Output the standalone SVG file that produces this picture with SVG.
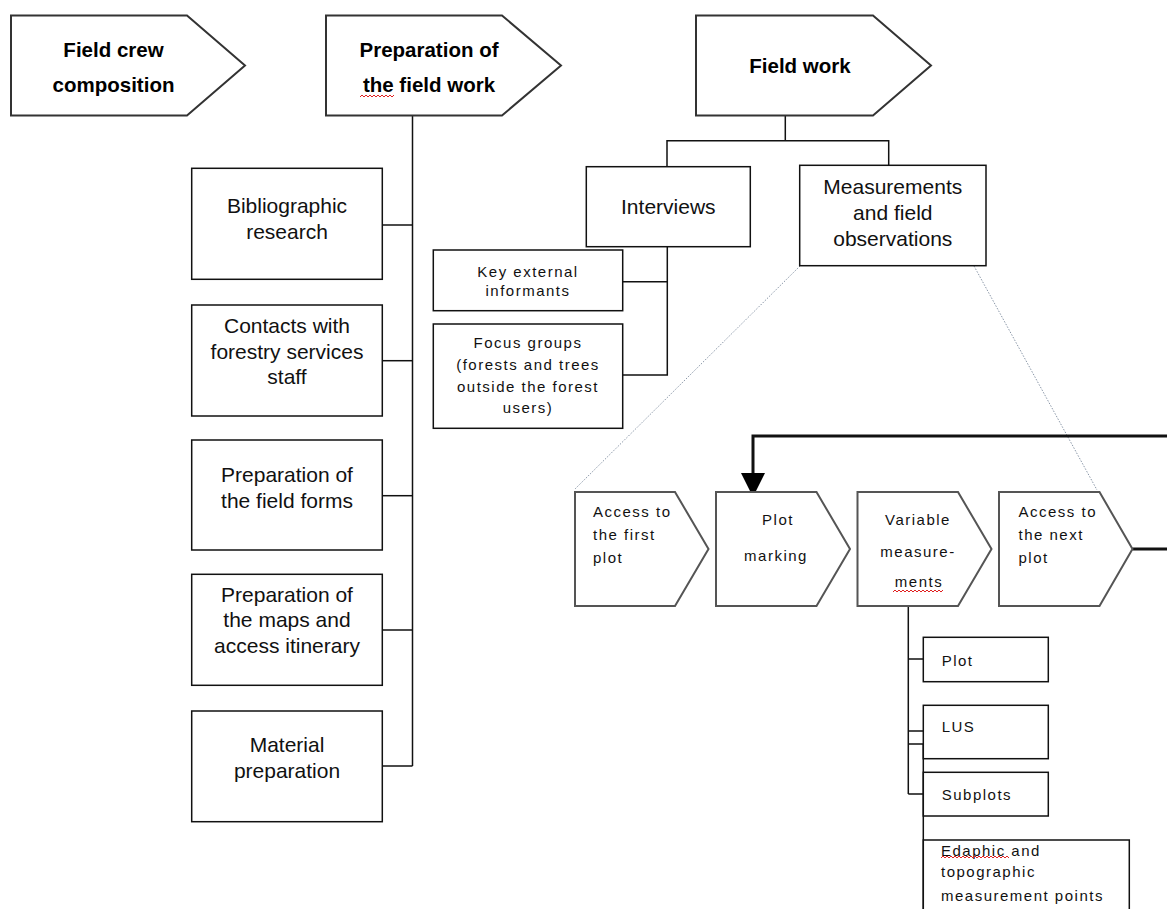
<svg xmlns="http://www.w3.org/2000/svg" width="1167" height="909" viewBox="0 0 1167 909">
<style>
.bg{fill:#fff}
.pent{fill:#fff;stroke:#333;stroke-width:2}
.chain{fill:#fff;stroke:#555;stroke-width:2}
.box{fill:#fff;stroke:#111;stroke-width:1.5}
.ln{fill:none;stroke:#111;stroke-width:1.5}
.thick{fill:none;stroke:#111;stroke-width:3}
.dot{fill:none;stroke:#8a97a8;stroke-width:1;stroke-dasharray:1.5 1.5}
.sq{fill:none;stroke:#e02020;stroke-width:1}
.big{font-family:"Liberation Sans",Arial,sans-serif;font-weight:bold;font-size:20.5px;text-anchor:middle;fill:#000}
.mid{font-family:"Liberation Sans",Arial,sans-serif;font-size:21px;text-anchor:middle;fill:#111}
.sm{font-family:"Liberation Sans",Arial,sans-serif;font-size:15px;letter-spacing:1.5px;fill:#111}
.c{text-anchor:middle}
</style>
<defs>
<marker id="ah" markerUnits="userSpaceOnUse" markerWidth="24" markerHeight="24" refX="24" refY="12" orient="auto" viewBox="0 0 24 24">
<path d="M0,0 L24,12 L0,24 Z" fill="#000"/>
</marker>
</defs>
<rect class="bg" x="0" y="0" width="1167" height="909"/>

<g id="connectors">
<line class="ln" x1="412.5" y1="116" x2="412.5" y2="766"/>
<line class="ln" x1="382.3" y1="225" x2="412.5" y2="225"/>
<line class="ln" x1="382.3" y1="360.7" x2="412.5" y2="360.7"/>
<line class="ln" x1="382.3" y1="495.7" x2="412.5" y2="495.7"/>
<line class="ln" x1="382.3" y1="630" x2="412.5" y2="630"/>
<line class="ln" x1="382.3" y1="766" x2="412.5" y2="766"/>
<path class="ln" d="M785.3,116 V140.7 M667,166.7 V140.7 H888.7 V165.3"/>
<path class="ln" d="M667.3,246.7 V375 H622.7 M622.7,281.7 H667.3"/>
<line class="dot" x1="800" y1="266" x2="575" y2="489"/>
<line class="dot" x1="974" y1="266" x2="1097" y2="490"/>
<path class="thick" d="M1167,436 H753 V497" marker-end="url(#ah)"/>
<line class="thick" x1="1132.5" y1="549" x2="1167" y2="549"/>
<path class="ln" d="M908.3,606 V794 M908.3,659 H923.3 M908.3,731 H923.3 M908.3,744 H923.3 M908.3,794 H923.3 M923.3,744 V909"/>
</g>

<g id="field-crew">
<path class="pent" d="M11,15.5 H187 L245,65.5 L187,115.5 H11 Z"/>
<text class="big" x="113.5" y="57.3">Field crew</text>
<text class="big" x="113.5" y="91.5">composition</text>
</g>
<g id="prep-field-work">
<path class="pent" d="M326,15.5 H502 L561,65.5 L502,115.5 H326 Z"/>
<text class="big" x="429" y="57.3">Preparation of</text>
<text class="big" x="429" y="91.7">the field work</text>
<path class="sq" d="M360,97 L362,95 L364,97 L366,95 L368,97 L370,95 L372,97 L374,95 L376,97 L378,95 L380,97 L382,95 L384,97 L386,95 L388,97 L390,95 L392,97 L394,95"/>
</g>
<g id="field-work">
<path class="pent" d="M696,15.5 H873 L931,65.5 L873,115.5 H696 Z"/>
<text class="big" x="800" y="72.7">Field work</text>
</g>

<g id="bibliographic">
<rect class="box" x="191.7" y="168.3" width="190.6" height="111"/>
<text class="mid" x="287" y="213.3">Bibliographic</text>
<text class="mid" x="287" y="239.3">research</text>
</g>
<g id="contacts">
<rect class="box" x="191.7" y="305" width="190.6" height="111"/>
<text class="mid" x="287" y="333.3">Contacts with</text>
<text class="mid" x="287" y="359">forestry services</text>
<text class="mid" x="287" y="384">staff</text>
</g>
<g id="field-forms">
<rect class="box" x="191.7" y="440" width="190.6" height="110"/>
<text class="mid" x="287" y="481.7">Preparation of</text>
<text class="mid" x="287" y="508.3">the field forms</text>
</g>
<g id="maps">
<rect class="box" x="191.7" y="574.3" width="190.6" height="111"/>
<text class="mid" x="287" y="602.3">Preparation of</text>
<text class="mid" x="287" y="626.7">the maps and</text>
<text class="mid" x="287" y="652.7">access itinerary</text>
</g>
<g id="material">
<rect class="box" x="191.7" y="711" width="190.6" height="110.7"/>
<text class="mid" x="287" y="751.7">Material</text>
<text class="mid" x="287" y="778.3">preparation</text>
</g>

<g id="interviews">
<rect class="box" x="586.3" y="166.7" width="164" height="80"/>
<text class="mid" x="668.3" y="214">Interviews</text>
</g>
<g id="measurements">
<rect class="box" x="799.7" y="165.3" width="186.3" height="100.4"/>
<text class="mid" x="892.8" y="194">Measurements</text>
<text class="mid" x="892.8" y="220">and field</text>
<text class="mid" x="892.8" y="246">observations</text>
</g>
<g id="key-informants">
<rect class="box" x="433.3" y="250" width="189.4" height="60.7"/>
<text class="sm c" x="528" y="276.5">Key external</text>
<text class="sm c" x="528" y="296">informants</text>
</g>
<g id="focus-groups">
<rect class="box" x="433.3" y="324" width="189.4" height="104.3"/>
<text class="sm c" x="528" y="348.3">Focus groups</text>
<text class="sm c" x="528" y="370">(forests and trees</text>
<text class="sm c" x="528" y="391.7">outside the forest</text>
<text class="sm c" x="528" y="413.3">users)</text>
</g>

<g id="access-first">
<path class="chain" d="M575,492 H675 L708.5,549 L675,606 H575 Z"/>
<text class="sm" x="593" y="517">Access to</text>
<text class="sm" x="593" y="540">the first</text>
<text class="sm" x="593" y="563">plot</text>
</g>
<g id="plot-marking">
<path class="chain" d="M716,492 H816.5 L850,549 L816.5,606 H716 Z"/>
<text class="sm c" x="778" y="525">Plot</text>
<text class="sm c" x="776" y="561">marking</text>
</g>
<g id="variable-measurements">
<path class="chain" d="M857.5,492 H958 L991.5,549 L958,606 H857.5 Z"/>
<text class="sm c" x="918" y="525">Variable</text>
<text class="sm c" x="918" y="556.7">measure-</text>
<text class="sm c" x="919" y="587">ments</text>
<path class="sq" d="M893,592 L895,590 L897,592 L899,590 L901,592 L903,590 L905,592 L907,590 L909,592 L911,590 L913,592 L915,590 L917,592 L919,590 L921,592 L923,590 L925,592 L927,590 L929,592 L931,590 L933,592 L935,590 L937,592 L939,590 L941,592 L943,590"/>
</g>
<g id="access-next">
<path class="chain" d="M999,492 H1099.5 L1132.5,549 L1099.5,606 H999 Z"/>
<text class="sm" x="1018.5" y="517">Access to</text>
<text class="sm" x="1018.5" y="539.5">the next</text>
<text class="sm" x="1018.5" y="563">plot</text>
</g>

<g id="plot">
<rect class="box" x="923.3" y="637.3" width="125" height="44.4"/>
<text class="sm" x="941.7" y="666">Plot</text>
</g>
<g id="lus">
<rect class="box" x="923.3" y="705.3" width="125" height="53.4"/>
<text class="sm" x="941.7" y="731.7">LUS</text>
</g>
<g id="subplots">
<rect class="box" x="923.3" y="772.3" width="125" height="43.7"/>
<text class="sm" x="941.7" y="800">Subplots</text>
</g>
<g id="edaphic">
<rect class="box" x="923.3" y="840" width="206" height="90"/>
<text class="sm" x="941" y="855.7">Edaphic and</text>
<text class="sm" x="941" y="877">topographic</text>
<text class="sm" x="941" y="901">measurement points</text>
<path class="sq" d="M941,858 L943,856 L945,858 L947,856 L949,858 L951,856 L953,858 L955,856 L957,858 L959,856 L961,858 L963,856 L965,858 L967,856 L969,858 L971,856 L973,858 L975,856 L977,858 L979,856 L981,858 L983,856 L985,858 L987,856 L989,858 L991,856 L993,858 L995,856 L997,858 L999,856 L1001,858 L1003,856 L1005,858 L1007,856 L1009,858"/>
</g>
</svg>
